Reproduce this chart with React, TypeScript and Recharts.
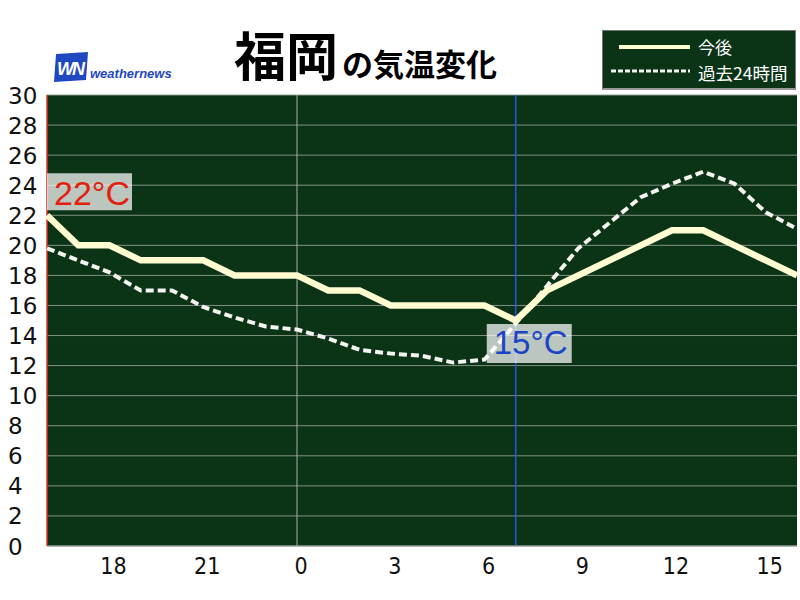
import {
  LineChart,
  Line,
  XAxis,
  YAxis,
  CartesianGrid,
  ReferenceLine,
  ReferenceDot,
} from 'recharts';

// hours from 16:00 yesterday to 16:00 today
const hours = [16, 17, 18, 19, 20, 21, 22, 23, 0, 1, 2, 3, 4, 5, 6, 7, 8, 9, 10, 11, 12, 13, 14, 15, 16];
const forecast = [22, 20, 20, 19, 19, 19, 18, 18, 18, 17, 17, 16, 16, 16, 16, 15, 17, 18, 19, 20, 21, 21, 20, 19, 18];
const past24h = [19.8, 19, 18.2, 17, 17, 15.9, 15.2, 14.6, 14.4, 13.8, 13.05, 12.8, 12.65, 12.2, 12.4, 14.8, 17.3, 19.8, 21.5, 23.2, 24.1, 24.9, 24.1, 22.2, 21.1];
const yTicks = [0, 2, 4, 6, 8, 10, 12, 14, 16, 18, 20, 22, 24, 26, 28, 30];
const xTickHours = [18, 21, 0, 3, 6, 9, 12, 15];
const nowIndex = 15;
const midnightIndex = 8;

const chartData = hours.map((h, i) => ({
  i,
  hour: h,
  forecast: forecast[i],
  past: past24h[i],
}));

const xTicks = xTickHours.map((h) => hours.indexOf(h, h >= 16 ? 0 : 1));

const BG = '#0b3316';

function YTick({ y, payload }: any) {
  return (
    <text x={8} y={y} dy={8.5} fontSize={23} fill="#111" fontFamily="'DejaVu Sans', sans-serif">
      {payload.value}
    </text>
  );
}

function XTick({ x, payload }: any) {
  return (
    <text
      x={x + 4}
      y={574}
      textAnchor="middle"
      fontSize={23}
      fill="#111"
      fontFamily="'DejaVu Sans Condensed', 'Liberation Sans Narrow', sans-serif"
    >
      {hours[payload.value]}
    </text>
  );
}

function TempLabel({ cx, cy, text, color, dx, dy, w, h, tx, ty, fs }: any) {
  return (
    <g>
      <rect x={cx + dx} y={cy + dy} width={w} height={h} fill="#ffffff" fillOpacity={0.72} />
      <text
        x={cx + tx}
        y={cy + ty}
        fontSize={fs}
        fill={color}
        fontFamily="'Liberation Sans', Arial, sans-serif"
      >
        {text}
      </text>
    </g>
  );
}

export default function App() {
  return (
    <div style={{ position: 'absolute', left: 0, top: 0, width: 800, height: 600, background: '#fff' }}>
      <LineChart
        width={800}
        height={600}
        data={chartData}
        margin={{ top: 95, right: 3, bottom: 24, left: 0 }}
      >
        <CartesianGrid vertical={false} fill={BG} stroke="#8e9c8e" strokeOpacity={0.9} />
        <XAxis
          type="number"
          dataKey="i"
          domain={[0, 24]}
          ticks={xTicks}
          tick={<XTick />}
          tickLine={false}
          axisLine={{ stroke: '#9aa09a' }}
          height={30}
          interval={0}
        />
        <YAxis
          type="number"
          domain={[0, 30]}
          ticks={yTicks}
          tick={<YTick />}
          tickLine={false}
          axisLine={false}
          width={47}
          interval={0}
        />
        <ReferenceLine x={0} stroke="#e03020" strokeWidth={1.5} />
        <ReferenceLine x={midnightIndex} stroke="#a8b0a8" strokeWidth={1} />
        <ReferenceLine x={nowIndex} stroke="#2456ea" strokeWidth={1.5} />
        <Line
          type="linear"
          dataKey="past"
          stroke="#f4f4f0"
          strokeWidth={4}
          strokeDasharray="8 4"
          dot={false}
          isAnimationActive={false}
        />
        <Line
          type="linear"
          dataKey="forecast"
          stroke="#fffcd2"
          strokeWidth={6.5}
          dot={false}
          isAnimationActive={false}
        />
        <ReferenceDot
          x={0}
          y={forecast[0]}
          r={0}
          shape={(p: any) => (
            <TempLabel cx={p.cx} cy={p.cy} text={`${forecast[0]}°C`} color="#e3200e"
              dx={0} dy={-42} w={85} h={37} tx={7} ty={-10} fs={34} />
          )}
        />
        <ReferenceDot
          x={nowIndex}
          y={forecast[nowIndex]}
          r={0}
          shape={(p: any) => (
            <TempLabel cx={p.cx} cy={p.cy} text={`${forecast[nowIndex]}°C`} color="#1b44c8"
              dx={-29} dy={3.5} w={85} h={39} tx={-22} ty={33} fs={33} />
          )}
        />
      </LineChart>

      {/* logo */}
      <svg style={{ position: 'absolute', left: 50, top: 50 }} width={130} height={34}>
        <polygon points="6,4 38,2 36,30 4,32" fill="#1f48c0" />
        <text x={7} y={25} fontSize={18} fontWeight={700} fontStyle="italic" fill="#fff"
          fontFamily="'Liberation Sans', Arial, sans-serif" letterSpacing={-2}>WN</text>
        <text x={40} y={28} fontSize={13} fontWeight={700} fontStyle="italic" fill="#1f48c0"
          fontFamily="'Liberation Sans', Arial, sans-serif">weathernews</text>
      </svg>

      {/* title */}
      <div
        style={{
          position: 'absolute',
          left: 234,
          top: 28,
          whiteSpace: 'nowrap',
          fontFamily: "'Noto Sans CJK JP', sans-serif",
          fontWeight: 700,
          color: '#000',
          lineHeight: 1,
        }}
      >
        <span style={{ fontSize: 52 }}>福岡</span>
        <span style={{ fontSize: 31, marginLeft: 4 }}>の気温変化</span>
      </div>

      {/* legend */}
      <div
        style={{
          position: 'absolute',
          left: 602,
          top: 30,
          width: 192,
          height: 57,
          background: BG,
          border: '1px solid #777',
          borderBottom: '2px solid #999',
        }}
      >
        <svg width={192} height={57} style={{ position: 'absolute', left: 0, top: 0 }}>
          <line x1={16} x2={87} y1={16} y2={16} stroke="#fffcd2" strokeWidth={4} />
          <line x1={8} x2={87} y1={40} y2={40} stroke="#f4f4f0" strokeWidth={3} strokeDasharray="5 2" />
          <text x={95} y={23} fontSize={17} fill="#fff" fontFamily="'Noto Sans CJK JP', sans-serif">今後</text>
          <text x={95} y={49} fontSize={17.5} fill="#fff" fontFamily="'Noto Sans CJK JP', sans-serif">過去24時間</text>
        </svg>
      </div>
    </div>
  );
}
